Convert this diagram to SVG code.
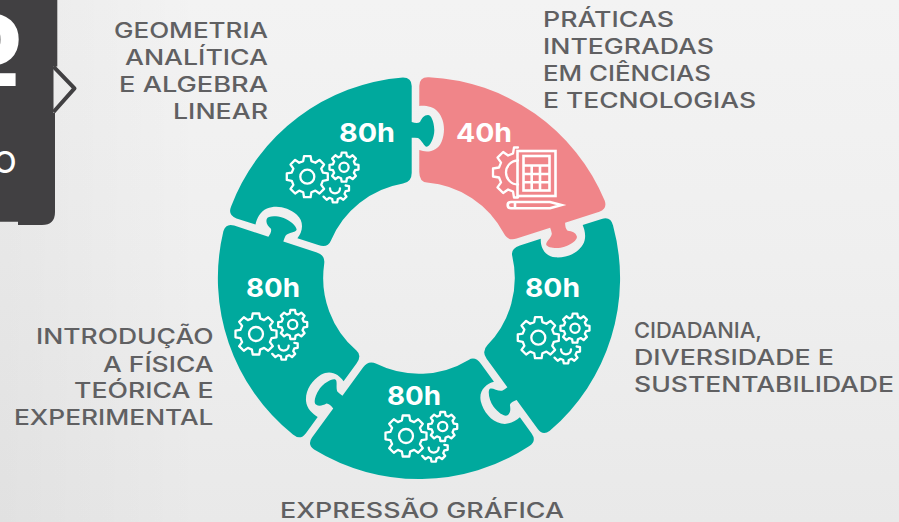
<svg xmlns="http://www.w3.org/2000/svg" width="899" height="522" viewBox="0 0 899 522">
<style>
.lbl{font-family:"Inter","Liberation Sans",sans-serif;font-size:21px;font-weight:500;fill:#606062}
.hrs{font-family:"Inter","Liberation Sans",sans-serif;font-size:26px;font-weight:700;fill:#fff}
.ln{fill:none;stroke:#fff;stroke-width:2.3;stroke-linejoin:round;stroke-linecap:round;vector-effect:non-scaling-stroke}
.ln2{fill:none;stroke:#fff;stroke-width:2.6;stroke-linejoin:miter}
.teal{fill:#00a99d}
.pink{fill:#f08589}
</style>
<defs>
<linearGradient id="bg" x1="0" y1="0" x2="0" y2="1">
<stop offset="0" stop-color="#f3f3f3"/><stop offset="0.5" stop-color="#efefef"/><stop offset="1" stop-color="#e9e9e9"/>
</linearGradient>
<linearGradient id="shade" x1="0" y1="0" x2="1" y2="0">
<stop offset="0" stop-color="#000" stop-opacity=".035"/><stop offset="1" stop-color="#000" stop-opacity="0"/>
</linearGradient>
<path id="piece" d="M231.1 206.5A201 201 0 0 1 403 77.5Q411.7 77.5 411.7 86L411.7 122C415 123 418 123.5 420 122C422 118 424 115 428 115C431 115 434 121 434.3 130C434.5 137 430 146.7 426.7 146.7C424 146.7 422 140 418 138C416 137.7 414 137.7 411.7 137.7L411.7 173Q411.7 182 403 183.5A96 96 0 0 0 330.7 240.9Q327.8 248 318.3 245L297.4 238.2C302.6 231.8 304.7 222 296.6 214.6C288.4 207.7 276.8 204.5 267 208.6C259.8 211.6 256.8 219 255.5 224.6L236.5 218.4Q227.5 215.4 231.1 206.5Z"/>
<polygon id="gearBig" class="ln" transform="scale(.205)" points="-20,-76 -16,-100 16,-100 20,-76 39.6,-67.9 59.4,-82 82,-59.4 67.9,-39.6 76,-20 100,-16 100,16 76,20 67.9,39.6 82,59.4 59.4,82 39.6,67.9 20,76 16,100 -16,100 -20,76 -39.6,67.9 -59.4,82 -82,59.4 -67.9,39.6 -76,20 -100,16 -100,-16 -76,-20 -67.9,-39.6 -82,-59.4 -59.4,-82 -39.6,-67.9"/>
<polygon id="gearSmall" class="ln" transform="translate(36.7 -9.5) scale(.145)" points="-20,-76 -16,-100 16,-100 20,-76 39.6,-67.9 59.4,-82 82,-59.4 67.9,-39.6 76,-20 100,-16 100,16 76,20 67.9,39.6 82,59.4 59.4,82 39.6,67.9 20,76 16,100 -16,100 -20,76 -39.6,67.9 -59.4,82 -82,59.4 -67.9,39.6 -76,20 -100,16 -100,-16 -76,-20 -67.9,-39.6 -82,-59.4 -59.4,-82 -39.6,-67.9"/>
<g id="gears">
<use href="#gearBig"/>
<circle r="7" class="ln"/>
<use href="#gearSmall"/>
<circle cx="36.7" cy="-9.5" r="4.6" class="ln"/>
<polyline class="ln" transform="translate(27.7 11.6) scale(.14)" points="76,-20 100,-16 100,16 76,20 67.9,39.6 82,59.4 59.4,82 39.6,67.9 20,76 16,100 -16,100 -20,76 -39.6,67.9 -59.4,82 -82,59.4"/>
<path class="ln" d="M22.7 11.6A5 5 0 0 0 32.7 11.6"/>
</g>
</defs>
<rect id="background" width="899" height="522" fill="url(#bg)"/>
<rect width="200" height="522" fill="url(#shade)"/>
<g id="panel">
<path fill="#414042" d="M0 0H57.3V66.5L53.5 66.5V113H55V212Q55 225 42 225H18V221.7H0Z"/>
<path fill="none" stroke="#414042" stroke-width="4" stroke-linejoin="round" d="M53.5 66.7L74.5 88.3L53.5 112"/>
<text x="26" y="110" text-anchor="end" font-family="'DejaVu Sans',sans-serif" font-weight="700" font-size="130" fill="#fff">º</text>
<text x="16.5" y="173" text-anchor="end" font-family="Inter,'Liberation Sans',sans-serif" font-weight="500" font-size="30" fill="#fff">O</text>
</g>
<g id="connectors"/>
<g id="node-geometria">
<use href="#piece" class="teal"/>
<text class="hrs" x="339" y="142" textLength="56" lengthAdjust="spacingAndGlyphs">80h</text>
<use href="#gears" transform="translate(307.3 176.7)"/>
<g class="lbl">
<text x="114" y="38" textLength="154" lengthAdjust="spacingAndGlyphs">GEOMETRIA</text>
<text x="125" y="65" textLength="143" lengthAdjust="spacingAndGlyphs">ANALÍTICA</text>
<text x="119" y="92" textLength="149" lengthAdjust="spacingAndGlyphs">E ALGEBRA</text>
<text x="173" y="119" textLength="95" lengthAdjust="spacingAndGlyphs">LINEAR</text>
</g>
</g>
<g id="node-praticas">
<use href="#piece" class="pink" transform="rotate(72 419 278)"/>
<text class="hrs" x="456" y="142" textLength="56" lengthAdjust="spacingAndGlyphs">40h</text>
<polyline class="ln" transform="translate(518 172.5) scale(.25)" points="0,100 -16,100 -20,76 -39.6,67.9 -59.4,82 -82,59.4 -67.9,39.6 -76,20 -100,16 -100,-16 -76,-20 -67.9,-39.6 -82,-59.4 -59.4,-82 -39.6,-67.9 -20,-76 -16,-100 0,-100"/>
<path class="ln" d="M518 160.5A12 12 0 0 0 518 184.5"/>
<rect class="ln2" x="517.5" y="151" width="38" height="45"/>
<rect class="ln2" x="523.5" y="156" width="26" height="34.5"/>
<path class="ln2" d="M523.5 165.5H549.5M523.5 174H549.5M523.5 182.3H549.5M531.7 165.5V190.5M540 165.5V190.5"/>
<path class="ln2" d="M511 202H550L561.5 205L550 208.3H511Q507.7 208.3 507.7 205Q507.7 202 511 202ZM515 202V208.3"/>
<g class="lbl">
<text x="543" y="27" textLength="131" lengthAdjust="spacingAndGlyphs">PRÁTICAS</text>
<text x="543" y="54" textLength="171" lengthAdjust="spacingAndGlyphs">INTEGRADAS</text>
<text x="543" y="81" textLength="168" lengthAdjust="spacingAndGlyphs">EM CIÊNCIAS</text>
<text x="543" y="108" textLength="213" lengthAdjust="spacingAndGlyphs">E TECNOLOGIAS</text>
</g>
</g>
<g id="node-cidadania">
<use href="#piece" class="teal" transform="rotate(144 419 278)"/>
<text class="hrs" x="525" y="297" textLength="55" lengthAdjust="spacingAndGlyphs">80h</text>
<use href="#gears" transform="translate(538.3 337.7)"/>
<g class="lbl">
<text x="634" y="338" textLength="128" lengthAdjust="spacingAndGlyphs">CIDADANIA,</text>
<text x="634" y="365" textLength="200" lengthAdjust="spacingAndGlyphs">DIVERSIDADE E</text>
<text x="634" y="392" textLength="260" lengthAdjust="spacingAndGlyphs">SUSTENTABILIDADE</text>
</g>
</g>
<g id="node-expressao">
<use href="#piece" class="teal" transform="rotate(216 419 278)"/>
<text class="hrs" x="387" y="405" textLength="54" lengthAdjust="spacingAndGlyphs">80h</text>
<use href="#gears" transform="translate(406 436)"/>
<text class="lbl" x="280" y="518" textLength="284" lengthAdjust="spacingAndGlyphs">EXPRESSÃO GRÁFICA</text>
</g>
<g id="node-introducao">
<use href="#piece" class="teal" transform="rotate(288 419 278)"/>
<text class="hrs" x="246" y="297" textLength="54" lengthAdjust="spacingAndGlyphs">80h</text>
<use href="#gears" transform="translate(256 334)"/>
<g class="lbl">
<text x="36" y="344" textLength="177.5" lengthAdjust="spacingAndGlyphs">INTRODUÇÃO</text>
<text x="103" y="371.5" textLength="110.5" lengthAdjust="spacingAndGlyphs">A FÍSICA</text>
<text x="74" y="398" textLength="139.5" lengthAdjust="spacingAndGlyphs">TEÓRICA E</text>
<text x="14" y="425" textLength="199.5" lengthAdjust="spacingAndGlyphs">EXPERIMENTAL</text>
</g>
</g>
</svg>
